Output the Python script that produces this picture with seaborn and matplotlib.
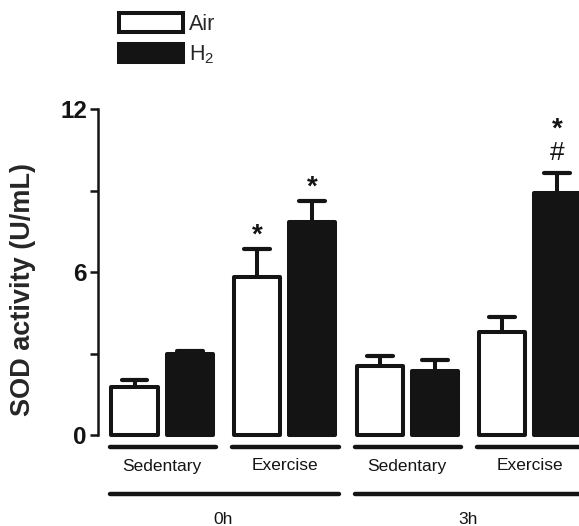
import matplotlib
matplotlib.use("Agg")
import matplotlib.pyplot as plt
import seaborn as sns
import pandas as pd
import numpy as np
from matplotlib.lines import Line2D

# ---- data ----
groups = ["Sed 0h", "Ex 0h", "Sed 3h", "Ex 3h"]
sub_labels = ["Sedentary", "Exercise", "Sedentary", "Exercise"]
time_labels = ["0h", "3h"]
gases = ["Air", "H$_2$"]
air_vals = [1.77, 5.82, 2.54, 3.79]
air_err = [0.26, 1.03, 0.37, 0.55]
h2_vals = [3.00, 7.84, 2.36, 8.91]
h2_err = [0.09, 0.77, 0.40, 0.73]
y_ticks = [0, 3, 6, 9, 12]
y_ticklabels = ["0", "", "6", "", "12"]
star_marks = [(1, 0), (1, 1), (3, 1)]
hash_marks = [(3, 1)]

df = pd.DataFrame({
    "group": groups * 2,
    "gas": [gases[0]] * 4 + [gases[1]] * 4,
    "val": air_vals + h2_vals,
    "err": air_err + h2_err,
})

sns.set_style("white")
plt.rcParams["font.family"] = ["Liberation Sans", "DejaVu Sans"]
plt.rcParams["mathtext.default"] = "regular"

BLACK = "#141414"
fig = plt.figure(figsize=(5.79, 5.26), dpi=100)
ax = fig.add_axes([98 / 579, 91 / 526, 481 / 579, 326 / 526])

sns.barplot(data=df, x="group", y="val", hue="gas", order=groups,
            hue_order=gases, palette=["white", BLACK], width=0.9, gap=0.16,
            errorbar=None, edgecolor=BLACK, linewidth=2.9, ax=ax, zorder=3)

for p in ax.patches:
    p.set_joinstyle("round")
    p.set_clip_on(False)

# error bars (upper only)
bars = [p for p in ax.patches if p.get_height() > 0]
bars_sorted = sorted(bars, key=lambda p: p.get_x())
vals_in_order = []
errs_in_order = []
for i in range(4):
    vals_in_order += [air_vals[i], h2_vals[i]]
    errs_in_order += [air_err[i], h2_err[i]]
for k, p in enumerate(bars_sorted):
    xc = p.get_x() + p.get_width() / 2
    v, e = vals_in_order[k], errs_in_order[k]
    ax.plot([xc, xc], [v, v + e], color=BLACK, lw=2.9, solid_capstyle="butt",
            zorder=2, clip_on=False)
    ax.plot([xc - 0.105, xc + 0.105], [v + e, v + e], color=BLACK, lw=3.0,
            solid_capstyle="round", zorder=2, clip_on=False)
    gi, hj = k // 2, k % 2
    top = v + e + 0.3
    if (gi, hj) in hash_marks:
        ax.text(xc, top, "#", ha="center", va="bottom", fontsize=19, color=BLACK)
        top += 0.82
    else:
        top -= 0.3
    if (gi, hj) in star_marks:
        ax.text(xc, top, "*", ha="center", va="bottom", fontsize=20,
                fontweight="bold", color=BLACK)

ax.set_xlim(-0.524, 3.402)
ax.set_ylim(0, 12)
ax.set_yticks(y_ticks)
ax.set_yticklabels(y_ticklabels, fontsize=17.5, fontweight="bold")
ax.set_xticks([])
ax.set_xlabel("")
ax.set_ylabel("SOD activity (U/mL)", fontsize=19.5, fontweight="bold")
ax.yaxis.set_label_coords(-0.128, 0.445)
ax.tick_params(axis="y", direction="out", length=6, width=1.8, left=True,
               pad=2, colors=BLACK)
for s in ["top", "right", "bottom"]:
    ax.spines[s].set_visible(False)
ax.spines["left"].set_linewidth(1.8)
ax.spines["left"].set_color(BLACK)

# group brackets below axis
trans = ax.get_xaxis_transform()
def yfrac(py):
    return (435 - py) / 326.0

for i, lab in enumerate(sub_labels):
    ax.add_line(Line2D([i - 0.43, i + 0.44], [yfrac(447)] * 2, transform=trans,
                       color=BLACK, lw=3.2, solid_capstyle="round", clip_on=False))
    ax.text(i, yfrac(466), lab, transform=trans, ha="center", va="center",
            fontsize=12.5, color=BLACK)
for t, lab in enumerate(time_labels):
    c = 2 * t + 0.5
    ax.add_line(Line2D([c - 0.93, c + 0.94], [yfrac(494)] * 2, transform=trans,
                       color=BLACK, lw=3.2, solid_capstyle="round", clip_on=False))
    ax.text(c, yfrac(519), lab, transform=trans, ha="center", va="center",
            fontsize=12.5, color=BLACK)

# legend
handles, labels = ax.get_legend_handles_labels()
leg = ax.legend(handles, labels, loc="upper left",
                bbox_to_anchor=(119 / 579, 1 - 13 / 526), bbox_transform=fig.transFigure,
                frameon=False, fontsize=15.5, handlelength=2.95, handleheight=0.95,
                handletextpad=0.3, labelspacing=0.4, borderpad=0, borderaxespad=0)
for h in leg.legend_handles:
    h.set_linewidth(2.9)
    h.set_edgecolor(BLACK)

fig.savefig("out.png", dpi=100)
